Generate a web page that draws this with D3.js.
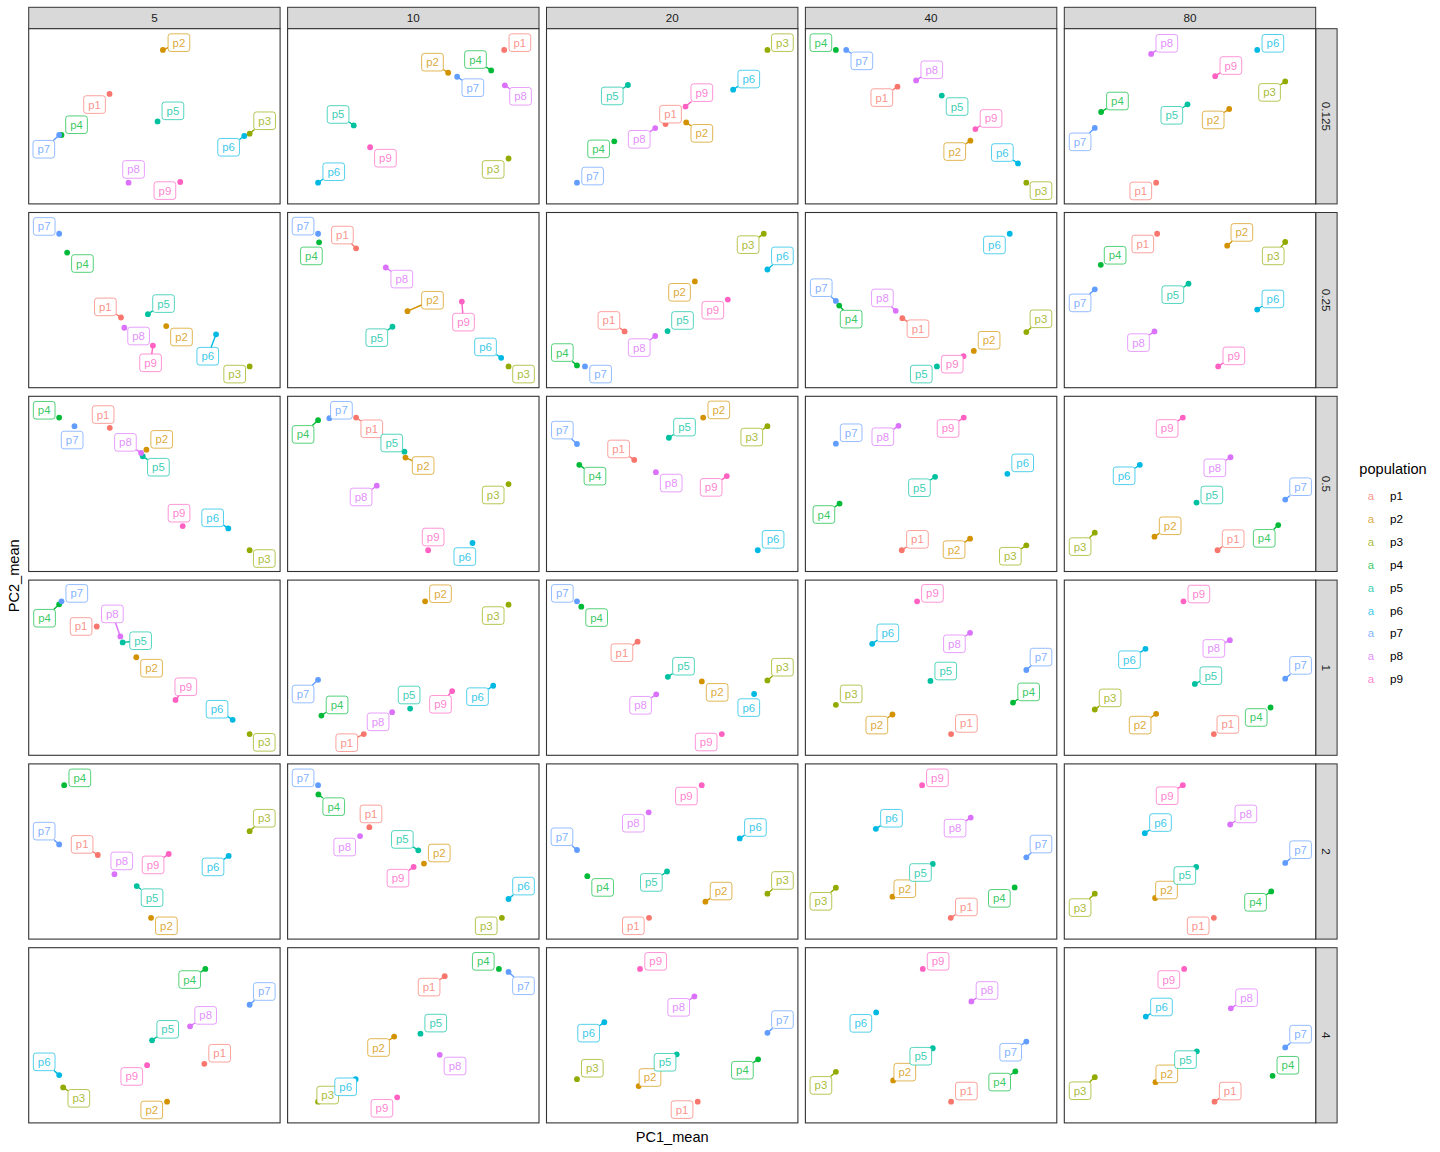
<!DOCTYPE html>
<html><head><meta charset="utf-8">
<script src="https://cdn.jsdelivr.net/npm/d3@7"></script>
<style>body{margin:0;background:#fff}svg{display:block}</style>
</head><body>
<svg id="chart" width="1440" height="1152"></svg>
<script>
// ---------------- data ----------------
const colFacets = ["5", "10", "20", "40", "80"];
const rowFacets = ["0.125", "0.25", "0.5", "1", "2", "4"];
const populations = ["p1", "p2", "p3", "p4", "p5", "p6", "p7", "p8", "p9"];
const popColors = ["#F8766D", "#D39200", "#93AA00", "#00BA38", "#00C19F", "#00B9E3", "#619CFF", "#DB72FB", "#FF61C3"];

// one entry per panel (row facet major, column facet minor); values for p1..p9 (arbitrary PC units)
const pc1Mean = [
  [243,403,663,99,387,647,92,300,455], [649,481,662,610,198,91,508,651,247], [356,418,662,202,243,559,90,325,416], [276,495,663,91,409,638,122,332,510], [275,494,662,110,369,578,91,260,452],
  [277,413,664,115,358,563,91,287,373], [205,359,662,94,314,640,91,294,522], [233,444,651,90,362,662,114,325,543], [290,505,663,100,394,613,90,270,474], [278,488,662,109,372,578,91,270,461],
  [243,353,663,91,342,599,137,337,462], [205,353,662,91,350,554,125,267,421], [262,469,662,97,366,633,90,327,540], [289,494,663,102,389,606,91,279,475], [459,270,91,641,396,226,662,498,355],
  [203,322,663,90,281,612,97,274,440], [228,412,662,101,367,616,91,313,493], [272,465,662,103,363,622,90,328,525], [437,261,91,623,375,200,663,494,335], [448,275,91,618,391,243,662,496,357],
  [207,367,663,106,324,600,91,257,420], [244,408,642,91,391,662,90,216,377], [307,476,662,122,361,579,91,306,465], [436,261,91,628,382,211,663,496,350], [448,272,91,620,395,241,662,497,355],
  [527,415,103,530,370,91,663,484,355], [470,318,89,633,397,202,662,455,327], [453,276,91,634,390,173,662,443,280], [437,263,91,630,382,212,663,498,352], [450,273,91,624,397,244,662,499,359]
];
const pc2Mean = [
  [330,463,210,206,247,203,206,62,64], [463,394,135,401,235,62,382,356,169], [239,244,463,187,357,343,62,227,292], [352,189,62,463,325,120,463,371,224], [63,285,368,276,299,463,228,451,384],
  [211,185,63,407,221,160,464,180,126], [420,230,63,438,183,89,464,362,259], [169,320,464,66,170,356,63,155,265], [209,110,167,247,63,464,261,231,94], [464,428,439,370,313,235,296,169,63],
  [433,367,63,464,347,129,438,357,136], [464,343,263,456,361,85,462,258,63], [336,464,438,321,403,63,384,299,287], [63,98,78,204,285,294,385,439,464], [63,104,116,139,207,321,216,344,464],
  [388,295,63,455,340,106,464,358,166], [64,465,455,120,141,210,228,130,194], [342,222,225,448,236,184,464,183,63], [64,123,152,159,224,336,257,369,464], [64,125,138,144,215,321,231,347,464],
  [254,64,326,465,160,251,286,196,257], [338,228,64,437,268,121,465,311,218], [64,113,137,190,204,304,269,383,465], [64,128,155,156,227,333,247,367,465], [64,124,137,144,218,320,230,346,465],
  [177,63,106,463,248,143,355,290,173], [441,258,61,463,267,129,454,203,74], [63,110,131,191,206,303,271,381,464], [63,127,153,154,224,332,244,365,463], [63,122,137,141,215,320,227,345,464]
];
// repelled label anchors (same units as the points)
const labelPc1 = [
  [198,451,708,144,433,600,46,315,409], [696,434,616,563,151,138,555,698,293], [371,465,707,155,196,606,137,277,465], [229,448,707,46,455,591,169,379,557], [229,446,615,159,322,625,47,307,499],
  [230,459,619,161,405,538,46,330,366], [164,434,707,71,267,593,46,342,527], [186,398,604,46,407,707,161,277,498], [337,551,707,136,347,567,46,230,440], [235,532,626,152,325,625,47,222,508],
  [223,399,707,46,389,552,130,290,451], [252,406,616,46,312,531,161,220,436], [215,516,615,144,413,679,46,373,493], [336,446,615,55,342,652,137,232,428], [506,317,47,599,442,179,708,451,308],
  [156,368,707,46,335,565,143,250,471], [177,458,616,148,364,569,46,271,458], [225,511,707,149,410,606,46,281,478], [483,214,137,670,421,247,707,447,381], [490,227,137,575,439,195,708,448,403],
  [160,413,707,153,370,553,46,279,373], [249,454,595,137,343,707,45,170,330], [260,523,707,168,314,626,46,260,419], [483,298,46,582,345,258,707,449,396], [401,306,47,573,361,288,708,544,308],
  [573,369,150,483,417,46,707,531,309], [423,271,118,586,443,172,707,501,281], [406,310,137,587,355,126,707,396,327], [483,298,46,583,346,166,616,545,398], [497,307,47,670,363,291,708,546,313]
];
const labelPc2 = [
  [298,485,249,237,279,169,163,102,38], [485,426,102,434,268,95,349,323,136], [269,211,485,164,324,375,82,193,334], [319,156,38,485,292,153,430,403,256], [38,252,335,309,266,483,186,483,416],
  [243,152,40,374,253,94,486,155,74], [460,263,40,397,150,122,487,327,197], [202,287,431,105,202,397,40,120,233], [177,142,207,206,40,430,301,270,70], [433,468,397,399,280,267,255,135,95],
  [473,398,38,486,314,161,396,389,175], [430,319,230,413,387,44,486,224,103], [369,487,405,287,435,96,426,266,253], [96,65,45,171,252,327,418,406,431], [98,137,74,99,230,288,255,312,431],
  [388,262,38,413,345,138,488,426,206], [38,488,422,152,182,177,185,101,154], [309,189,265,415,268,143,488,150,39], [96,91,185,191,254,369,296,336,488], [93,91,173,114,240,288,271,322,486],
  [286,40,365,487,125,218,326,236,224], [378,260,40,400,301,160,487,278,184], [40,145,177,156,171,337,309,350,432], [97,152,114,123,201,365,287,335,487], [40,148,95,111,192,352,270,378,433],
  [209,38,73,431,281,183,395,323,139], [408,225,81,486,299,106,412,169,41], [39,136,164,158,182,270,311,348,487], [95,152,112,122,200,299,212,398,486], [95,147,96,173,190,349,267,377,432]
];

// ---------------- layout ----------------
const FONT = "'Liberation Sans', Arial, Helvetica, sans-serif";
const PW = 251.4, PH = 175.2, GX = 7.5, GY = 8.6;
const LEFT = 28.7, TOP = 28.7, STRIP = 21.4;
const EXPAND = 0.16;
const LABEL_FS = 11.4, PADX = 4.5, BOXH = 17.6, MIN_SEG = 5.6;

const svg = d3.select("#chart");
svg.append("rect").attr("width", 1440).attr("height", 1152).attr("fill", "#fff");

const color = d3.scaleOrdinal().domain(populations).range(popColors);

colFacets.forEach((cf, c) => {
  const x0 = LEFT + c * (PW + GX);
  svg.append("rect").attr("x", x0).attr("y", TOP - STRIP).attr("width", PW).attr("height", STRIP)
    .attr("fill", "#D9D9D9").attr("stroke", "#333").attr("stroke-width", 1);
  svg.append("text").attr("x", x0 + PW / 2).attr("y", TOP - STRIP / 2 + 4)
    .attr("text-anchor", "middle").attr("font-family", FONT).attr("font-size", 11.7).attr("fill", "#1A1A1A").text(cf);
});
rowFacets.forEach((rf, r) => {
  const y0 = TOP + r * (PH + GY);
  const sx = LEFT + 5 * PW + 4 * GX;
  svg.append("rect").attr("x", sx).attr("y", y0).attr("width", STRIP).attr("height", PH)
    .attr("fill", "#D9D9D9").attr("stroke", "#333").attr("stroke-width", 1);
  svg.append("text").attr("transform", `translate(${sx + STRIP / 2 - 4},${y0 + PH / 2}) rotate(90)`)
    .attr("text-anchor", "middle").attr("font-family", FONT).attr("font-size", 11.7).attr("fill", "#1A1A1A").text(rf);
});

rowFacets.forEach((rf, r) => {
  colFacets.forEach((cf, c) => {
    const i = r * colFacets.length + c;
    const g = svg.append("g").attr("transform", `translate(${LEFT + c * (PW + GX)},${TOP + r * (PH + GY)})`);
    const xv = pc1Mean[i], yv = pc2Mean[i];
    const [xa, xb] = d3.extent(xv), [ya, yb] = d3.extent(yv);
    const x = d3.scaleLinear().domain([xa - (xb - xa) * EXPAND, xb + (xb - xa) * EXPAND]).range([0, PW]);
    const y = d3.scaleLinear().domain([ya - (yb - ya) * EXPAND, yb + (yb - ya) * EXPAND]).range([PH, 0]);
    g.append("rect").attr("width", PW).attr("height", PH).attr("fill", "#fff");
    const rows = populations.map((p, k) => ({ p, x: xv[k], y: yv[k], lx: labelPc1[i][k], ly: labelPc2[i][k] }));
    g.selectAll("circle").data(rows).join("circle")
      .attr("cx", d => x(d.x)).attr("cy", d => y(d.y)).attr("r", 2.9).attr("fill", d => color(d.p));
    rows.forEach(d => {
      const lg = g.append("g");
      const cx = x(d.lx), cy = y(d.ly), px = x(d.x), py = y(d.y);
      const seg = lg.append("line");
      const rect = lg.append("rect");
      const t = lg.append("text").attr("x", cx).attr("y", cy + 4).attr("text-anchor", "middle")
        .attr("font-family", FONT).attr("font-size", LABEL_FS).attr("fill", color(d.p)).attr("fill-opacity", 0.8).text(d.p);
      const bw = t.node().getComputedTextLength() + 2 * PADX, bh = BOXH;
      rect.attr("x", cx - bw / 2).attr("y", cy - bh / 2).attr("width", bw).attr("height", bh)
        .attr("rx", 2.6).attr("fill", "#fff").attr("stroke", color(d.p)).attr("stroke-opacity", 0.75).attr("stroke-width", 0.9);
      const dx = px - cx, dy = py - cy;
      const tt = Math.min(dx === 0 ? Infinity : (bw / 2) / Math.abs(dx), dy === 0 ? Infinity : (bh / 2) / Math.abs(dy));
      if (tt < 1) {
        const ex = cx + dx * tt, ey = cy + dy * tt;
        if (Math.hypot(px - ex, py - ey) > MIN_SEG) {
          seg.attr("x1", px).attr("y1", py).attr("x2", ex).attr("y2", ey)
            .attr("stroke", color(d.p)).attr("stroke-width", 1.4);
        } else seg.remove();
      } else seg.remove();
    });
    g.append("rect").attr("width", PW).attr("height", PH).attr("fill", "none").attr("stroke", "#333").attr("stroke-width", 1.1);
  });
});

// axis titles
svg.append("text").attr("x", LEFT + (5 * PW + 4 * GX) / 2).attr("y", 1141.5).attr("text-anchor", "middle")
  .attr("font-family", FONT).attr("font-size", 14.6).attr("fill", "#000").text("PC1_mean");
svg.append("text").attr("transform", `translate(19,${TOP + (6 * PH + 5 * GY) / 2}) rotate(-90)`).attr("text-anchor", "middle")
  .attr("font-family", FONT).attr("font-size", 14.6).attr("fill", "#000").text("PC2_mean");

// legend
const leg = svg.append("g");
leg.append("text").attr("x", 1359.3).attr("y", 473.5).attr("font-family", FONT).attr("font-size", 14.6).attr("fill", "#000").text("population");
populations.forEach((p, k) => {
  const cy = 495.7 + k * 22.96;
  leg.append("text").attr("x", 1371).attr("y", cy + 4).attr("text-anchor", "middle").attr("font-family", FONT)
    .attr("font-size", LABEL_FS).attr("fill", color(p)).attr("fill-opacity", 0.8).text("a");
  leg.append("text").attr("x", 1390).attr("y", cy + 4).attr("font-family", FONT).attr("font-size", 11.7).attr("fill", "#000").text(p);
});
</script>
</body></html>
